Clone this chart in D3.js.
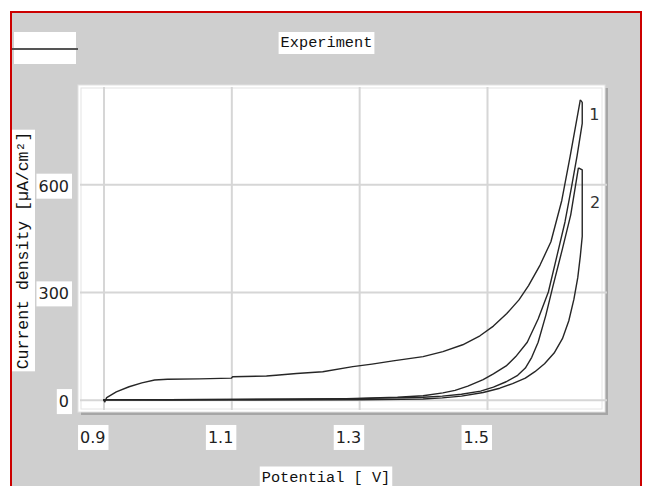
<!DOCTYPE html>
<html lang="en">
<head>
  <meta charset="UTF-8">
  <title>Experiment</title>
  <style>
    body {
      margin: 0;
      background: #fff;
      overflow: hidden;
    }
    svg {
      display: block;
    }
    .tick-label text {
      font-family: "DejaVu Sans", sans-serif;
      font-size: 16px;
      fill: #222;
    }
    .mono {
      font-family: "Liberation Mono", "DejaVu Sans Mono", monospace;
      fill: #111;
    }
    .curve {
      fill: none;
      stroke: #262626;
      stroke-width: 1.4px;
      stroke-linejoin: round;
    }
  </style>
</head>
<body>
  <svg width="645" height="486"></svg>

  <script src="https://d3js.org/d3.v7.min.js"></script>
  <script>
    // ---- data ----
    const xTicks = [0.9, 1.1, 1.3, 1.5];
    const yTicks = [0, 300, 600];

    // [potential V, current density µA/cm²]
    const curve1Forward = [
      [0.900, 0], [0.902, -6], [0.905, 6], [0.92, 22], [0.94, 36], [0.96, 47],
      [0.98, 55], [1.00, 57], [1.05, 58], [1.10, 60], [1.102, 64], [1.155, 66],
      [1.17, 68], [1.202, 73], [1.243, 78], [1.29, 92], [1.32, 99], [1.353, 108],
      [1.40, 120], [1.431, 134], [1.462, 153], [1.489, 178], [1.51, 205],
      [1.531, 240], [1.55, 278], [1.565, 318], [1.583, 375], [1.60, 440],
      [1.617, 555], [1.630, 677], [1.646, 835]
    ];
    const curve1Reverse = [
      [1.646, 835], [1.649, 828], [1.649, 770], [1.641, 680], [1.632, 590],
      [1.622, 495], [1.610, 405], [1.596, 300], [1.58, 225], [1.563, 160],
      [1.545, 120], [1.53, 94], [1.51, 72], [1.494, 56], [1.47, 38], [1.45, 26],
      [1.431, 19], [1.40, 11], [1.36, 7], [1.32, 5], [1.28, 3], [1.20, 2],
      [1.10, 1], [1.00, 0], [0.90, 0]
    ];
    const curve2Forward = [
      [0.900, 0], [1.00, 0], [1.10, 1], [1.20, 1], [1.30, 3], [1.35, 5],
      [1.40, 7], [1.43, 10], [1.46, 15], [1.49, 24], [1.51, 35], [1.53, 50],
      [1.548, 68], [1.56, 88], [1.57, 118], [1.58, 160], [1.592, 235],
      [1.603, 315], [1.618, 420], [1.631, 515], [1.643, 646]
    ];
    const curve2Reverse = [
      [1.643, 646], [1.649, 640], [1.649, 455], [1.646, 400], [1.642, 340],
      [1.636, 280], [1.628, 220], [1.618, 170], [1.605, 130], [1.59, 100],
      [1.575, 78], [1.56, 60], [1.54, 45], [1.52, 32], [1.494, 20], [1.46, 10],
      [1.43, 5], [1.40, 2], [1.30, 0], [1.10, -1], [0.90, 0]
    ];
    const curveLabels = [
      { text: "1", v: 1.660, j: 780 },
      { text: "2", v: 1.661, j: 535 }
    ];

    const svg = d3.select("svg");

    // widget background + red frame
    svg.append("rect")
      .attr("x", 11).attr("y", 12)
      .attr("width", 630).attr("height", 500)
      .attr("fill", "#cfcfcf")
      .attr("stroke", "#cc0000")
      .attr("stroke-width", 2);

    // plot panel
    const panel = { x0: 78, y0: 85, x1: 605, y1: 412 };

    // shadow
    svg.append("rect")
      .attr("x", panel.x0 + 3).attr("y", panel.y0 + 3)
      .attr("width", panel.x1 - panel.x0).attr("height", panel.y1 - panel.y0)
      .attr("fill", "#a6a6a6");
    svg.append("rect")
      .attr("x", panel.x0).attr("y", panel.y0)
      .attr("width", panel.x1 - panel.x0).attr("height", panel.y1 - panel.y0)
      .attr("fill", "#fff")
      .attr("stroke", "#e2e2e2");
    svg.append("rect")
      .attr("x", panel.x0 + 3).attr("y", panel.y0 + 3)
      .attr("width", panel.x1 - panel.x0 - 6).attr("height", panel.y1 - panel.y0 - 6)
      .attr("fill", "none")
      .attr("stroke", "#e4e4e4");

    const x = d3.scaleLinear().domain([0.9, 1.5]).range([103.5, 487]);
    const y = d3.scaleLinear().domain([0, 600]).range([399.7, 184.3]);

    // grid
    const gridX = svg.append("g")
      .attr("transform", `translate(0,${panel.y1 - 2})`)
      .call(d3.axisBottom(x).tickValues(xTicks).tickSize(-(panel.y1 - panel.y0 - 4)).tickFormat(""));
    const gridY = svg.append("g")
      .attr("transform", `translate(${panel.x0 + 2},0)`)
      .call(d3.axisLeft(y).tickValues(yTicks).tickSize(-(panel.x1 - panel.x0)).tickFormat(""));
    [gridX, gridY].forEach(g => {
      g.select(".domain").remove();
      g.selectAll("line").attr("stroke", "#d6d6d6").attr("stroke-width", 2);
    });

    // curves
    const line = d3.line().x(d => x(d[0])).y(d => y(d[1]));
    [curve1Forward, curve1Reverse, curve2Forward, curve2Reverse].forEach(c => {
      svg.append("path").attr("class", "curve").attr("d", line(c));
    });

    svg.selectAll(".curve-label")
      .data(curveLabels)
      .join("text")
      .attr("class", "curve-label")
      .attr("x", d => x(d.v))
      .attr("y", d => y(d.j))
      .attr("font-family", "DejaVu Sans, sans-serif")
      .attr("font-size", 16)
      .attr("fill", "#333")
      .text(d => d.text);

    // tick labels in white boxes
    const xLab = svg.append("g")
      .attr("class", "tick-label")
      .attr("transform", `translate(0,${panel.y1})`)
      .call(d3.axisBottom(x).tickValues(xTicks).tickSize(0).tickPadding(19.6).tickFormat(d3.format(".1f")));
    xLab.selectAll("text").attr("text-anchor", "end").attr("dx", 1.5);

    const yLab = svg.append("g")
      .attr("class", "tick-label")
      .attr("transform", `translate(${panel.x0},0)`)
      .call(d3.axisLeft(y).tickValues(yTicks).tickSize(0).tickPadding(9));
    yLab.selectAll("text").attr("dy", "0.43em");

    [xLab, yLab].forEach(g => {
      g.select(".domain").remove();
      g.selectAll(".tick").each(function () {
        const t = d3.select(this).select("text");
        const bb = t.node().getBBox();
        d3.select(this).insert("rect", "text")
          .attr("x", bb.x - 2)
          .attr("y", bb.y + bb.height / 2 - 12.5)
          .attr("width", bb.width + 5)
          .attr("height", 25)
          .attr("fill", "#fff");
      });
    });

    // boxed text helper
    function boxedText(tx, ty, str, size, rotate) {
      const g = svg.append("g").attr("transform", `translate(${tx},${ty})` + (rotate ? " rotate(-90)" : ""));
      const t = g.append("text")
        .attr("class", "mono")
        .attr("text-anchor", "middle")
        .attr("font-size", size)
        .text(str);
      const bb = t.node().getBBox();
      g.insert("rect", "text")
        .attr("x", bb.x - 2).attr("y", bb.y - 2)
        .attr("width", bb.width + 4).attr("height", bb.height + 4)
        .attr("fill", "#fff");
      return g;
    }

    boxedText(326.5, 47, "Experiment", 15.3);
    boxedText(326, 481.5, "Potential [ V]", 15.3);
    boxedText(28, 250.5, "Current density [µA/cm²]", 16.5, true);

    // legend swatch
    svg.append("rect")
      .attr("x", 14).attr("y", 32)
      .attr("width", 62).attr("height", 32)
      .attr("fill", "#fff");
    svg.append("line")
      .attr("x1", 12).attr("x2", 78)
      .attr("y1", 49).attr("y2", 49)
      .attr("stroke", "#555")
      .attr("stroke-width", 2);
  </script>
</body>
</html>
